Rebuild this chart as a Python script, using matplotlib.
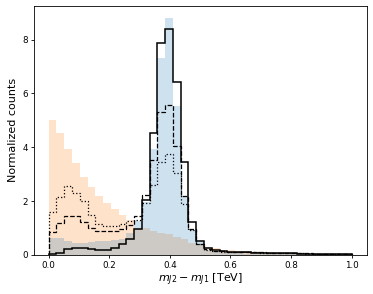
import numpy as np
import matplotlib
matplotlib.use("Agg")
import matplotlib.pyplot as plt

# 39 equal bins between 0 and 1 TeV
edges = np.linspace(0, 1, 40)

# filled histograms
background = [5.0, 4.51, 3.92, 3.42, 2.90, 2.51, 2.19, 1.92, 1.69, 1.48,
              1.28, 1.0, 1.0, 0.9, 0.83, 0.77, 0.68, 0.58, 0.46, 0.4,
              0.3, 0.24, 0.2, 0.17, 0.15, 0.13, 0.12, 0.1, 0.09, 0.08,
              0.07, 0.06, 0.06, 0.05, 0.04, 0.04, 0.03, 0.03, 0.02]
signal = [0.62, 0.62, 0.52, 0.46, 0.45, 0.48, 0.5, 0.53, 0.57, 0.6,
          0.8, 1.25, 1.95, 3.92, 7.3, 8.81, 5.53, 2.15, 0.93, 0.52,
          0.2, 0.12, 0.09, 0.07, 0.06, 0.05, 0.05, 0.04, 0.04, 0.03,
          0.03, 0.03, 0.02, 0.02, 0.02, 0.02, 0.01, 0.01, 0.01]

# step histograms
solid = [0.04, 0.08, 0.22, 0.27, 0.24, 0.21, 0.18, 0.2, 0.25, 0.4,
         0.6, 0.97, 2.04, 4.54, 7.87, 8.39, 6.41, 3.45, 1.24, 0.5,
         0.27, 0.19, 0.14, 0.11, 0.1, 0.09, 0.08, 0.08, 0.07, 0.07,
         0.06, 0.06, 0.05, 0.05, 0.04, 0.04, 0.03, 0.03, 0.02]
dashed = [0.85, 1.2, 1.45, 1.43, 1.22, 1.0, 0.9, 0.88, 0.88, 0.95,
          1.1, 1.45, 2.22, 3.52, 5.29, 5.56, 4.04, 2.2, 0.95, 0.4,
          0.22, 0.16, 0.14, 0.12, 0.11, 0.1, 0.09, 0.09, 0.08, 0.08,
          0.07, 0.07, 0.06, 0.06, 0.05, 0.05, 0.04, 0.03, 0.03]
dotted = [1.6, 2.14, 2.57, 2.31, 1.99, 1.48, 1.15, 1.08, 1.08, 1.15,
          1.25, 1.3, 1.92, 2.6, 3.44, 3.75, 3.05, 1.89, 0.93, 0.4,
          0.2, 0.14, 0.12, 0.11, 0.1, 0.09, 0.09, 0.08, 0.08, 0.07,
          0.07, 0.06, 0.06, 0.05, 0.05, 0.04, 0.04, 0.03, 0.03]

plt.rcParams['font.size'] = 6.3
plt.rcParams['axes.linewidth'] = 0.6
plt.rcParams['xtick.major.width'] = 0.6
plt.rcParams['ytick.major.width'] = 0.6
plt.rcParams['xtick.major.size'] = 2.2
plt.rcParams['ytick.major.size'] = 2.2
plt.rcParams['xtick.major.pad'] = 2
plt.rcParams['ytick.major.pad'] = 2

fig = plt.figure(figsize=(3.73, 2.94), dpi=100)
ax = fig.add_axes([0.09, 0.133, 0.893, 0.847])

centers = edges[:-1]
ax.hist(centers, bins=edges, weights=background, histtype='stepfilled',
        color='C1', alpha=0.22, linewidth=0)
ax.hist(centers, bins=edges, weights=signal, histtype='stepfilled',
        color='C0', alpha=0.22, linewidth=0)

ax.hist(centers, bins=edges, weights=solid, histtype='step', color='k', linewidth=1.1)
ax.hist(centers, bins=edges, weights=dashed, histtype='step', color='k',
        linestyle='--', linewidth=0.9)
ax.hist(centers, bins=edges, weights=dotted, histtype='step', color='k',
        linestyle=':', linewidth=0.9)

ax.set_xticks([0.0, 0.2, 0.4, 0.6, 0.8, 1.0])
ax.set_yticks([0, 2, 4, 6, 8])
ax.set_xlabel(r'$m_{J2} - m_{J1}$ [TeV]', fontsize=8, labelpad=1)
ax.set_ylabel('Normalized counts', fontsize=8, labelpad=3)

fig.savefig('out.png', dpi=100)
